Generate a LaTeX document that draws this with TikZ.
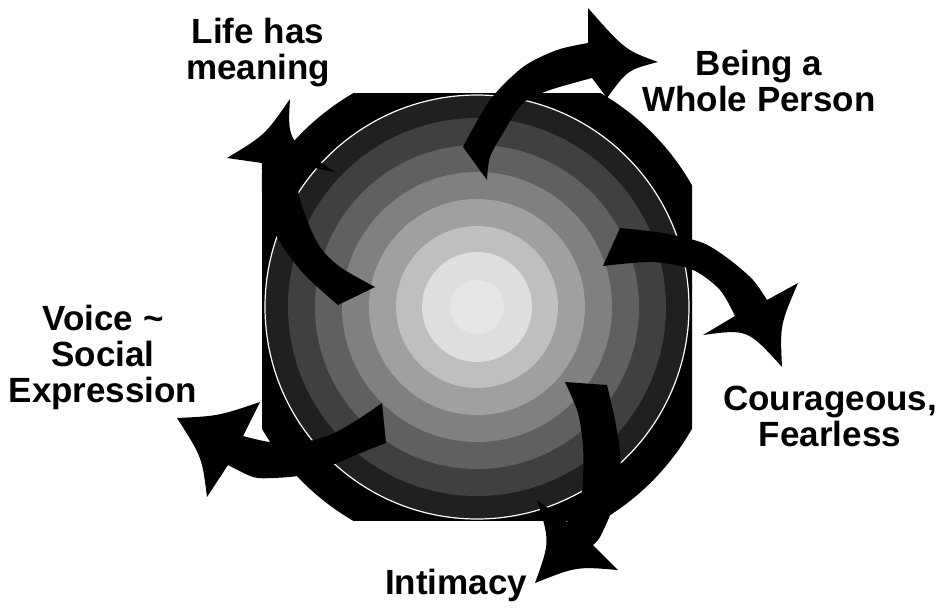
\documentclass[tikz,border=0pt]{standalone}
\usepackage{fontspec}
\setmainfont{Liberation Sans}
\begin{document}
\begin{tikzpicture}[x=1pt,y=-1pt]
\useasboundingbox (0,0) rectangle (942,608);
\definecolor{ga}{HTML}{202020}
\definecolor{gb}{HTML}{404040}
\definecolor{gc}{HTML}{606060}
\definecolor{gd}{HTML}{808080}
\definecolor{ge}{HTML}{A0A0A0}
\definecolor{gf}{HTML}{BFBFBF}
\definecolor{gg}{HTML}{DEDEDE}
\definecolor{gh}{HTML}{E6E6E6}
\tikzset{
  blk/.style={fill=black},
  lbl/.style={font=\fontsize{35}{36}\selectfont\bfseries, align=center, inner sep=0pt},
}
% black background: circle clipped by square
\begin{scope}
  \clip (262,93) rectangle (692,520);
  \fill[black] (477,307) circle[radius=247pt];
\end{scope}
% concentric discs
\fill[ga] (477,307) circle[radius=212pt];
\draw[white, line width=1.2pt] (477,307) circle[radius=212pt];
\fill[gb] (477,307) circle[radius=189pt];
\fill[gc] (477,307) circle[radius=162pt];
\fill[gd] (477,307) circle[radius=135pt];
\fill[ge] (477,307) circle[radius=108pt];
\fill[gf] (477,307) circle[radius=81pt];
\fill[gg] (477,307) circle[radius=55pt];
\fill[gh] (477,307) circle[radius=27pt];

% Arrow A (top, to Being a Whole Person)
\fill[blk] plot[smooth] coordinates {(463,147) (490,100) (523,67) (557,50) (588,43)}
  -- (588,8) .. controls (625,50) .. (658,62)
  .. controls (627.5,70) .. (607,98) -- (592,78)
  -- plot[smooth] coordinates {(592,78) (550,90) (523,103) (503,133) (490,157) (487,180)}
  -- cycle;

% Arrow B (right, to Courageous, Fearless)
\fill[blk] plot[smooth] coordinates {(620,228) (663,233) (703,243) (730,260) (753,280) (767,300)}
  -- (798,283) .. controls (780,325) .. (782,367)
  .. controls (747.5,329) .. (703,335) -- (735,316)
  -- plot[smooth] coordinates {(735,316) (720,290) (693,270) (653,262) (603,266)}
  -- cycle;

% Arrow C (bottom, to Intimacy)
\fill[blk] plot[smooth] coordinates {(607,385) (615,420) (620,453) (620,480) (612,510) (600,537) (593,545)}
  -- (618,570) .. controls (576.5,566.5) .. (535,583)
  .. controls (550,541.5) .. (537,500) -- (567,522)
  -- plot[smooth] coordinates {(567,522) (580,500) (583,480) (583,447) (578,413) (565,382)}
  -- cycle;

% Arrow D (bottom-left, to Voice ~ Social Expression)
\fill[blk] plot[smooth] coordinates {(382,403) (357,420) (330,435) (303,442) (270,442) (243,436)}
  -- (260,402) .. controls (218.5,416) .. (177,418)
  .. controls (202,457) .. (207,497) -- (228,465)
  -- plot[smooth] coordinates {(228,465) (253,477) (273,478) (303,475) (337,463) (363,452) (386,443)}
  -- cycle;

% Arrow E (top-left, to Life has meaning)
\fill[blk] plot[smooth] coordinates {(338,305) (303,273) (277,237) (263,200) (262,170) (262,163)}
  -- (227,158) .. controls (265,135) .. (290,99)
  .. controls (287.5,140.5) .. (335,172) -- (300,165)
  -- plot[smooth] coordinates {(300,165) (298,190) (307,220) (320,247) (340,267) (375,287)}
  -- cycle;

% labels
\node[lbl] (life) at (258,53) {Life has\\meaning};
\node[lbl] (whole) at (759,81) {Being a\\Whole Person};
\node[lbl] (voice) at (103,357) {Voice \textasciitilde\\Social\\Expression};
\node[lbl] (courage) at (830,416) {Courageous,\\Fearless};
\node[lbl] (intimacy) at (456,585) {Intimacy};
\end{tikzpicture}
\end{document}
